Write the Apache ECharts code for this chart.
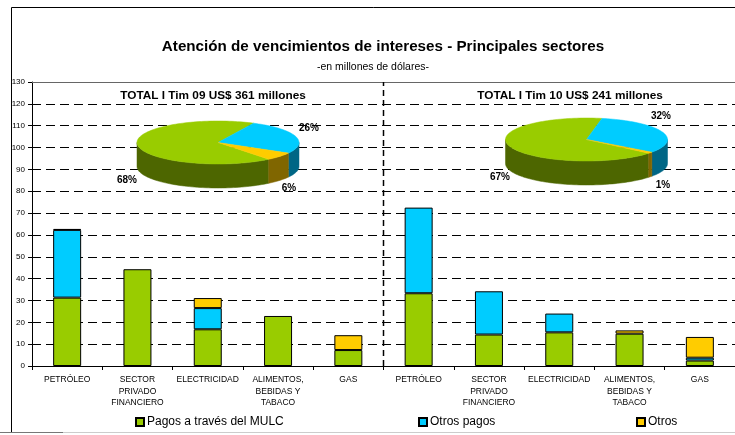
<!DOCTYPE html>
<html><head><meta charset="utf-8">
<script src="https://cdn.jsdelivr.net/npm/echarts@6/dist/echarts.min.js"></script>
<style>html,body{margin:0;padding:0;background:#fff}#c{width:735px;height:435px}</style>
</head><body><div id="c"></div>
<script>
// ---- data ----
const sectors = ['PETRÓLEO', 'SECTOR\nPRIVADO\nFINANCIERO', 'ELECTRICIDAD', 'ALIMENTOS,\nBEBIDAS Y\nTABACO', 'GAS'];
const periodLabels = ['I Tim 09', 'I Tim 10'];
const periodTotals = [361, 241];
const seriesNames = ['Pagos a través del MULC', 'Otros pagos', 'Otros'];
const mulc       = [31.3, 44.3, 16.8, 22.9, 7.3, 33.3, 14.4, 15.4, 14.8, 2.5];
const otrosPagos = [31.0, 0,    9.7,  0,    0,   39.2, 19.8, 8.6,  0,    1.3];
const otros      = [0.4,  0,    4.6,  0,    6.8, 0,    0,    0,    1.5,  9.5];
const pieShares09 = [68, 26, 6];
const pieShares10 = [67, 32, 1];
const yMin = 0, yMax = 130, yStep = 10;

// ---- styles / layout ----
const FONT = 'Arial, "Liberation Sans", sans-serif';
const topColors = ['#99CC00', '#00CCFF', '#FFCC00'];
const sideColors = ['#4D6600', '#006685', '#806600'];
const pieLayouts = [
  {shares: pieShares09, cx: 218, cy: 142.5, rx: 81, ry: 21.5, depth: 24, start: 51.2,
   labelOff: [[-91, 37.5], [91, -14.5], [71, 45.5]]},
  {shares: pieShares10, cx: 586.5, cy: 139.5, rx: 81, ry: 21.5, depth: 24, start: 39.8,
   labelOff: [[-86.5, 37.5], [74.5, -23.5], [76.5, 45.5]]}
];

const categories = [];
periodLabels.forEach(p => sectors.forEach(s => categories.push(p + '|' + s)));
const nz = arr => arr.map(v => v === 0 ? '-' : v);

function arcPts(cx, cy, rx, ry, a0, a1, dy) {
  const pts = [];
  const n = Math.max(2, Math.ceil(Math.abs(a1 - a0) / 2));
  for (let k = 0; k <= n; k++) {
    const t = (a0 + (a1 - a0) * k / n) * Math.PI / 180;
    pts.push([cx + rx * Math.cos(t), cy + ry * Math.sin(t) + dy]);
  }
  return pts;
}

function pie3d(L) {
  const total = L.shares.reduce((a, b) => a + b, 0);
  let a = L.start;
  const slices = L.shares.map((v, i) => {
    const span = v / total * 360;
    const s = {a0: a, a1: a + span, i, v};
    a += span;
    return s;
  });
  const children = [];
  slices.forEach(s => {
    [0, 360].forEach(base => {
      const lo = Math.max(s.a0, base), hi = Math.min(s.a1, base + 180);
      if (hi > lo) {
        const top = arcPts(L.cx, L.cy, L.rx, L.ry, lo, hi, 0);
        const bot = arcPts(L.cx, L.cy, L.rx, L.ry, hi, lo, L.depth);
        children.push({type: 'polygon', shape: {points: top.concat(bot)},
          style: {fill: sideColors[s.i], stroke: sideColors[s.i], lineWidth: 0.5}});
      }
    });
  });
  slices.forEach(s => {
    const pts = [[L.cx, L.cy]].concat(arcPts(L.cx, L.cy, L.rx, L.ry, s.a0, s.a1, 0));
    children.push({type: 'polygon', shape: {points: pts},
      style: {fill: topColors[s.i], stroke: topColors[s.i], lineWidth: 0.5}});
  });
  slices.forEach(s => {
    children.push({type: 'text', x: L.cx + L.labelOff[s.i][0], y: L.cy + L.labelOff[s.i][1],
      style: {text: Math.round(s.v / total * 100) + '%', font: 'bold 10px ' + FONT,
        fill: '#000', align: 'center', verticalAlign: 'middle'}});
  });
  return {type: 'group', children};
}

const chart = echarts.init(document.getElementById('c'), null, {renderer: 'canvas'});

const barSeries = [mulc, otrosPagos, otros].map((arr, i) => ({
  name: seriesNames[i], type: 'bar', stack: 'total', barWidth: 28,
  data: nz(arr), xAxisIndex: 0, yAxisIndex: 0,
  itemStyle: {color: topColors[i], borderColor: '#000', borderWidth: 1},
  z: 3
}));

const option = {
  animation: false,
  backgroundColor: '#fff',
  textStyle: {fontFamily: FONT},
  title: [
    {text: 'Atención de vencimientos de intereses - Principales sectores', left: 378, textAlign: 'center', top: 34,
     textStyle: {fontSize: 15.2, fontWeight: 'bold', color: '#000', fontFamily: FONT}},
    {text: '-en millones de dólares-', left: 368, textAlign: 'center', top: 57,
     textStyle: {fontSize: 10.5, fontWeight: 'normal', color: '#000', fontFamily: FONT}},
    {text: 'TOTAL ' + periodLabels[0] + ' US$ ' + periodTotals[0] + ' millones', left: 208, textAlign: 'center', top: 85,
     textStyle: {fontSize: 11.8, fontWeight: 'bold', color: '#000', fontFamily: FONT}},
    {text: 'TOTAL ' + periodLabels[1] + ' US$ ' + periodTotals[1] + ' millones', left: 565, textAlign: 'center', top: 85,
     textStyle: {fontSize: 11.8, fontWeight: 'bold', color: '#000', fontFamily: FONT}}
  ],
  legend: seriesNames.map((n, i) => ({
    data: [n], left: [135, 418, 636][i], top: 416, padding: 0, icon: 'rect', itemWidth: 8, itemHeight: 8, itemGap: 4,
    textStyle: {fontSize: 12, color: '#000', fontFamily: FONT, padding: [0, 0, 0, -2]}
  })),
  grid: {left: 32, top: 82, width: 711, height: 284, containLabel: false},
  xAxis: [
    {type: 'category', data: categories, boundaryGap: true,
     axisLine: {lineStyle: {color: '#000', width: 1}},
     axisTick: {show: true, length: 4, lineStyle: {color: '#000'}},
     axisLabel: {formatter: v => v.split('|')[1], fontSize: 8.5, color: '#000', lineHeight: 11.5,
       margin: 8, interval: 0, fontFamily: FONT},
     splitLine: {show: false}},
    {type: 'value', min: 0, max: 10, position: 'top', show: true,
     axisLine: {show: true, onZero: false, lineStyle: {color: '#666', width: 1}},
     axisTick: {show: false}, axisLabel: {show: false}, splitLine: {show: false}}
  ],
  yAxis: {type: 'value', min: yMin, max: yMax, interval: yStep,
    axisLine: {show: true, lineStyle: {color: '#000', width: 1}},
    axisTick: {show: true, length: 4, lineStyle: {color: '#000'}},
    axisLabel: {fontSize: 8, color: '#000', margin: 7, fontFamily: FONT},
    splitLine: {show: true, lineStyle: {color: '#000', width: 1, type: [9, 5]}}},
  series: barSeries.concat([
    {type: 'line', xAxisIndex: 1, yAxisIndex: 0, data: [[5, yMin], [5, yMax]], symbol: 'none', silent: true,
     lineStyle: {color: '#000', width: 1.5, type: [6, 4]}, z: 4},
    {type: 'custom', coordinateSystem: 'none', data: [0], silent: true, z: 10,
     renderItem: () => pie3d(pieLayouts[0])},
    {type: 'custom', coordinateSystem: 'none', data: [0], silent: true, z: 10,
     renderItem: () => pie3d(pieLayouts[1])}
  ]),
  graphic: [
    {type: 'line', shape: {x1: 11.5, y1: 7.5, x2: 735, y2: 7.5}, style: {stroke: '#000', lineWidth: 1}, silent: true},
    {type: 'line', shape: {x1: 11.5, y1: 7.5, x2: 11.5, y2: 432}, style: {stroke: '#000', lineWidth: 1}, silent: true},
    {type: 'line', shape: {x1: 0, y1: 432.5, x2: 63, y2: 432.5}, style: {stroke: '#777', lineWidth: 1}, silent: true},
    {type: 'line', shape: {x1: 63, y1: 432.5, x2: 735, y2: 432.5}, style: {stroke: '#ccc', lineWidth: 1}, silent: true}
  ]
};
chart.setOption(option);
</script>
</body></html>
